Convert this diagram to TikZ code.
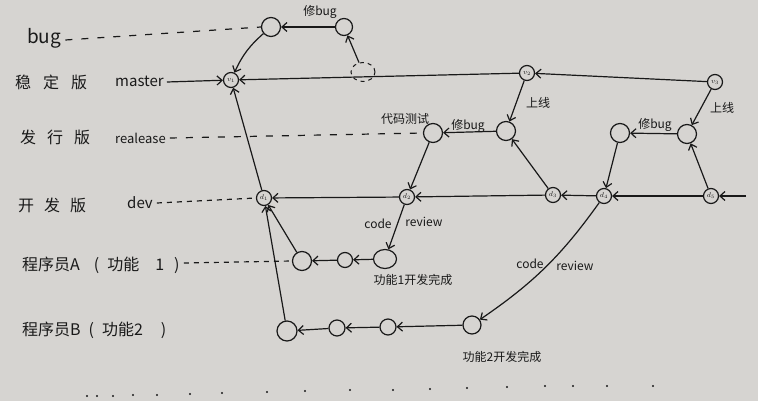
\documentclass[tikz,border=0pt]{standalone}
\usepackage{fontspec}
\setmainfont{Noto Sans CJK SC}
\usetikzlibrary{arrows.meta,shapes.geometric}
\definecolor{paper}{RGB}{214,212,209}
\definecolor{ink}{RGB}{25,25,25}
\tikzset{
  commit/.style={circle,draw=ink,line width=1.2pt,minimum size=15pt,inner sep=0pt,font=\fontsize{7.5}{7.5}\selectfont,text=ink},
  blank/.style={circle,draw=ink,line width=1.2pt,minimum size=19pt,inner sep=0pt},
  ghost/.style={ellipse,draw=ink,line width=1pt,dash pattern=on 4pt off 4pt,minimum width=24pt,minimum height=19pt,inner sep=0pt},
  arr/.style={draw=ink,line width=1.2pt,-{Straight Barb[length=5pt,width=9pt]}},
  lead/.style={draw=ink,line width=1.2pt,dash pattern=on 7pt off 9pt},
  shortlead/.style={draw=ink,line width=1.2pt,dash pattern=on 5pt off 5pt},
  biglabel/.style={font=\fontsize{16}{18}\selectfont,text=ink,inner sep=0pt,anchor=west},
  latlabel/.style={font=\fontsize{15}{17}\selectfont,text=ink,inner sep=0pt,anchor=west},
  note/.style={font=\fontsize{12}{13}\selectfont,text=ink,inner sep=1pt},
}
\begin{document}
\begin{tikzpicture}[x=1pt,y=-1pt]
\fill[paper] (0,0) rectangle (758,401);
\useasboundingbox (0,0) rectangle (758,401);

% row labels
\node[latlabel,font=\fontsize{19}{20}\selectfont] (bugl) at (27,38) {bug};
\node[biglabel] (stable) at (15,82) {稳\hspace{12pt}定\hspace{12pt}版};
\node[latlabel] (master) at (115,81) {master};
\node[biglabel] (rel) at (20,137) {发\hspace{11pt}行\hspace{11pt}版};
\node[latlabel,font=\fontsize{13}{15}\selectfont] (release) at (115,138) {realease};
\node[biglabel] (devz) at (18,205) {开\hspace{10pt}发\hspace{10pt}版};
\node[latlabel] (dev) at (127,203) {dev};
\node[biglabel] (progA) at (22,265) {程序员A\hspace{14pt}(\hspace{8pt}功能\hspace{16pt}1\hspace{10pt})};
\node[biglabel] (progB) at (22,330) {程序员B\hspace{8pt}(\hspace{8pt}功能2\hspace{18pt})};

% commits
\node[commit] (V1) at (231,80) {$v_1$};
\node[commit] (V2) at (527,73) {$v_2$};
\node[commit] (V3) at (715,82) {$v_3$};
\node[commit] (d1) at (264,198) {$d_1$};
\node[commit] (d2) at (407,197) {$d_2$};
\node[commit] (d3) at (553,195) {$d_3$};
\node[commit] (d4) at (604,196) {$d_4$};
\node[commit] (d5) at (711,196) {$d_5$};

\node[blank] (b1) at (271,27) {};
\node[blank,minimum size=17pt] (b2) at (344,27) {};
\node[ghost] (gh) at (363,72) {};

\node[blank] (r1) at (433,133) {};
\node[blank] (r2) at (506,131) {};
\node[blank] (r3) at (620,133) {};
\node[blank] (r4) at (687,134) {};

\node[blank] (a1) at (302,261) {};
\node[blank,minimum size=15pt] (a2) at (345,260) {};
\node[blank,ellipse,minimum width=23pt,minimum height=19pt] (a3) at (385,259) {};

\node[blank,minimum size=20pt] (p1) at (287,331) {};
\node[blank,minimum size=16pt] (p2) at (337,328) {};
\node[blank,minimum size=16pt] (p3) at (388,327) {};
\node[blank,minimum size=18pt] (p4) at (472,325) {};

\coordinate (devend) at (746,196);

% dashed leaders
\draw[lead] (bugl.east) ++(4,2) -- (b1.west);
\draw[arr] (master.east) ++(3,1) -- (V1);
\draw[lead] (release.east) ++(4,0) -- (r1.west);
\draw[shortlead] (dev.east) ++(4,0) -- (d1.west);
\draw[shortlead] (progA.east) ++(4,-2) -- (a1.west);

% master / bug
\draw[arr] (b2) -- (b1);
\draw[arr] (gh) -- (b2);
\draw[arr] (b1) to[bend right=12] (V1);
\draw[arr] (V2) -- (V1);
\draw[arr] (V3) -- (V2);
\draw[arr] (d1) -- (V1);

% release 1
\draw[arr] (V2) -- (r2);
\draw[arr] (r2) -- (r1);
\draw[arr] (d3) -- (r2);
\draw[arr] (r1) -- (d2);
% release 2
\draw[arr] (V3) -- (r4);
\draw[arr] (r4) -- (r3);
\draw[arr] (d5) -- (r4);
\draw[arr] (r3) -- (d4);

% dev line
\draw[arr] (devend) -- (d5);
\draw[arr] (d5) -- (d4);
\draw[arr] (d4) -- (d3);
\draw[arr] (d3) -- (d2);
\draw[arr] (d2) -- (d1);

% feature A
\draw[arr] (d2) -- (a3);
\draw[arr] (a3) -- (a2);
\draw[arr] (a2) -- (a1);
\draw[arr] (a1) -- (d1);

% feature B
\draw[arr] (d4) to[bend left=10] (p4);
\draw[arr] (p4) -- (p3);
\draw[arr] (p3) -- (p2);
\draw[arr] (p2) -- (p1);
\draw[arr] (p1) -- (d1);

% notes
\node[note] (n1) at (320,12) {修bug};
\node[note] (n2) at (468,126) {修bug};
\node[note] (n3) at (655,125) {修bug};
\node[note] (n4) at (538,103) {上线};
\node[note] (n5) at (722,108) {上线};
\node[note] (n6) at (405,119) {代码测试};
\node[note] (n7) at (378,224) {code};
\node[note] (n8) at (424,222) {review};
\node[note] (n9) at (413,280) {功能1开发完成};
\node[note] (n10) at (530,264) {code};
\node[note] (n11) at (575,266) {review};
\node[note] (n12) at (502,357) {功能2开发完成};

% dotted row
\foreach \x/\y in {87/396,97/396,113/396,133/395,157/395,190/394,222/393,267/392,305/391,350/390,393/390,430/389,467/388,507/387,545/386,573/386,607/386,653/386}
  \fill[ink] (\x,\y) circle (1.1pt);
\end{tikzpicture}
\end{document}
